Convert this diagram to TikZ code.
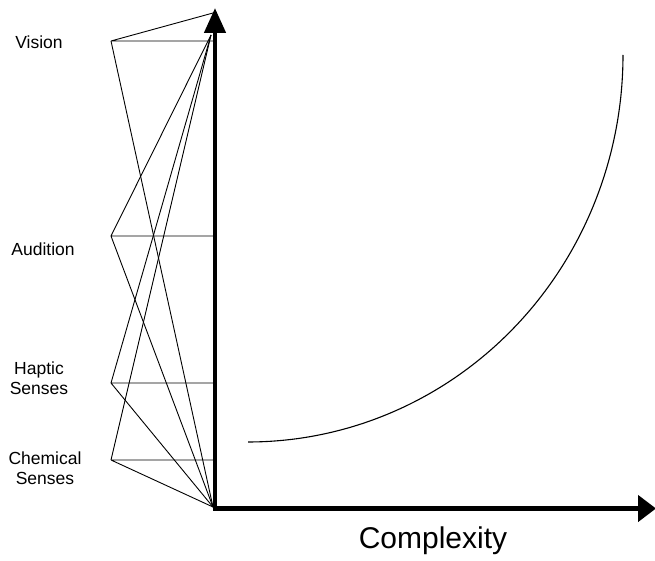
\documentclass[tikz,border=0pt]{standalone}
\usepackage{fontspec}
\setmainfont{Liberation Sans}
\usetikzlibrary{arrows.meta}

\begin{document}
\begin{tikzpicture}[x=1pt, y=-1pt,
    sense/.style={font=\fontsize{17.5}{20}\selectfont, align=center, inner sep=0pt},
    link/.style={line width=0.9pt},
    axis/.style={line width=4.6pt}]
  \useasboundingbox (0,0) rectangle (655,561);

  % the four senses
  \coordinate (vis) at (111,41);
  \coordinate (aud) at (111,236);
  \coordinate (hap) at (111,383);
  \coordinate (che) at (111,460);
  \node[sense] (visL) at (39,42.5) {Vision};
  \node[sense] (audL) at (43,249) {Audition};
  \node[sense] (hapL) at (39,378.5) {Haptic\\Senses};
  \node[sense] (cheL) at (45,468.5) {Chemical\\Senses};

  % where the lines meet the vertical axis
  \coordinate (o) at (213,507);
  \coordinate (top) at (211,35);
  \coordinate (tip) at (213,13);

  \draw[link] (vis) -- (tip) (vis) -- (o) (vis) -- (vis -| o);
  \draw[link] (aud) -- (top) (aud) -- (o) (aud) -- (aud -| o);
  \draw[link] (hap) -- (top) (hap) -- (o) (hap) -- (hap -| o);
  \draw[link] (che) -- (top) (che) -- (o) (che) -- (che -| o);

  % axes
  \coordinate (yEnd) at (215,8);
  \coordinate (xEnd) at (656,508.5);
  \draw[axis, -{Triangle[length=25pt, width=21pt]}] (215,510.8) -- (yEnd);
  \draw[axis, -{Triangle[length=18pt, width=26pt]}] (212.7,508.5) -- (xEnd);
  \node[font=\fontsize{30}{36}\selectfont, anchor=base, inner sep=0pt] (cx) at (433,548) {Complexity};

  % growth curve
  \draw[line width=1.1pt] plot[domain=0:90, samples=80, smooth] ({248+375*cos(\x)}, {55+387*sin(\x)});
\end{tikzpicture}
\end{document}
